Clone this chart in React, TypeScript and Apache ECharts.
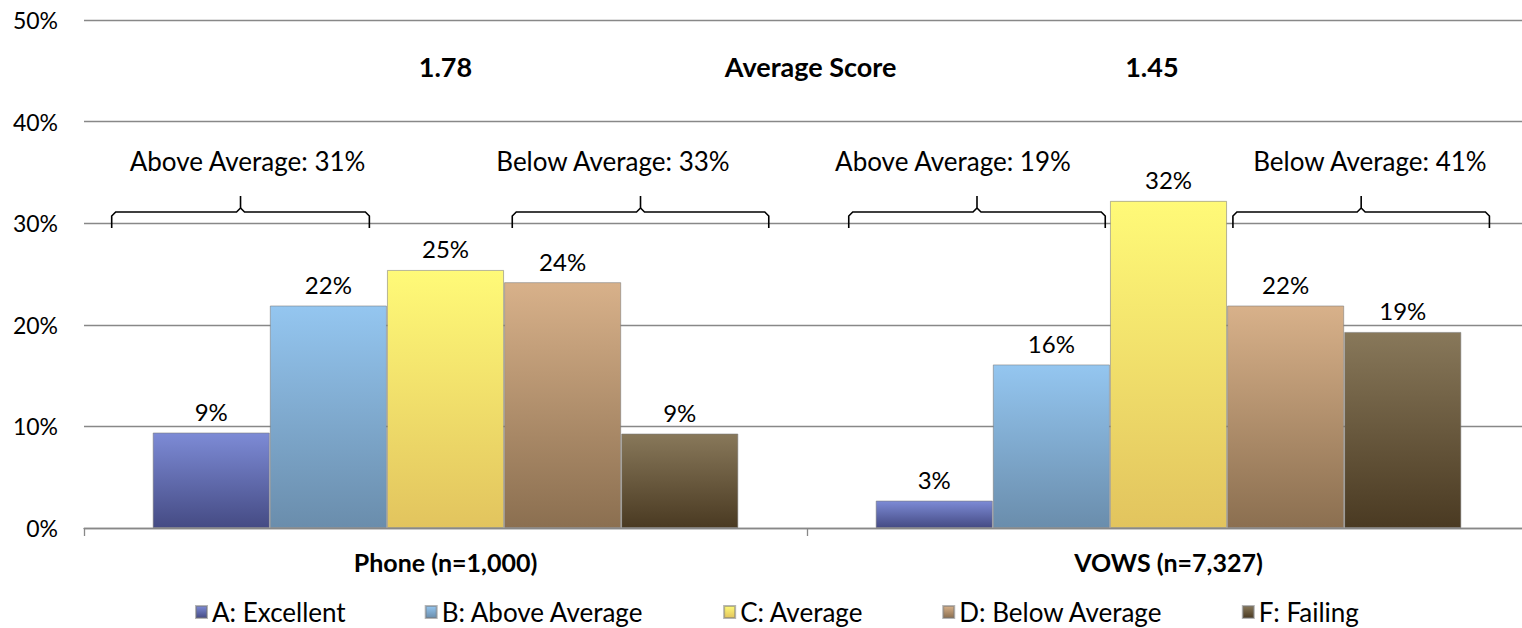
import React, { useEffect, useRef } from "react";
import * as echarts from "echarts";

const categories = ["Phone (n=1,000)", "VOWS (n=7,327)"];
const seriesNames = ["A: Excellent", "B: Above Average", "C: Average", "D: Below Average", "F: Failing"];
const gradeA = [9.4, 2.7];
const gradeB = [21.9, 16.1];
const gradeC = [25.4, 32.2];
const gradeD = [24.2, 21.9];
const gradeF = [9.3, 19.3];
const yTicks = [0, 10, 20, 30, 40, 50];

const bracketCategory = [0, 0, 1, 1];
const bracketLabels = ["Above Average: 31%", "Below Average: 33%", "Above Average: 19%", "Below Average: 41%"];
// bracket spans and label centres, in bar widths from the category centre
const bracketStart = [-2.85, 0.57, -2.73, 0.55];
const bracketEnd = [-0.65, 2.76, -0.54, 2.74];
const bracketTextCenter = [-1.69, 1.43, -1.84, 1.72];

const scoreLabels = ["1.78", "Average Score", "1.45"];
const scorePositions = [0, 0.505, 0.977];

const gradientStops: [string, string][] = [
  ["#7d8bd6", "#454b84"],
  ["#94c6f0", "#6a8dac"],
  ["#fffa78", "#e2c45e"],
  ["#d8b18a", "#8b6f50"],
  ["#88785a", "#4a3a22"],
];

const FONT = "Lato, 'Open Sans', sans-serif";
const BAR_FRAC = 0.162;
const BRACKET_LEVEL = 31.1;
const BRACKET_TEXT_LEVEL = 36.1;
const SCORE_LEVEL = 45.4;

function grad(i: number) {
  return new echarts.graphic.LinearGradient(0, 0, 0, 1, [
    { offset: 0, color: gradientStops[i][0] },
    { offset: 1, color: gradientStops[i][1] },
  ]);
}

export default function App() {
  const ref = useRef<HTMLDivElement>(null);
  useEffect(() => {
    if (!ref.current) return;
    const chart = echarts.init(ref.current, null, { renderer: "svg" });
    const values = [gradeA, gradeB, gradeC, gradeD, gradeF];
    const barSeries = seriesNames.map((name, i) => ({
      name,
      type: "bar",
      data: values[i],
      barWidth: BAR_FRAC * 100 + "%",
      barGap: "0%",
      itemStyle: {
        color: grad(i),
        borderColor: "rgba(120,120,120,0.55)",
        borderWidth: 1,
      },
      label: {
        show: true,
        position: "top",
        distance: 9,
        fontFamily: FONT,
        fontSize: 24,
        color: "#000",
        formatter: (p: any) => Math.round(p.value) + "%",
      },
    }));

    const annotationSeries = {
      type: "custom",
      silent: true,
      z: 10,
      clip: false,
      data: [[0, 0]],
      renderItem: (params: any, api: any) => {
        const children: any[] = [];
        const catW = api.size([1, 0])[0];
        const bw = catW * BAR_FRAC;
        const yH = api.coord([0, BRACKET_LEVEL])[1];
        const yText = api.coord([0, BRACKET_TEXT_LEVEL])[1];
        bracketCategory.forEach((c, i) => {
          const cx = api.coord([c, 0])[0];
          const x0 = cx + bracketStart[i] * bw;
          const x1 = cx + bracketEnd[i] * bw;
          const xm = (x0 + x1) / 2;
          const r = 4;
          children.push({
            type: "polyline",
            shape: {
              points: [
                [x0, yH + 16],
                [x0, yH + r],
                [x0 + r, yH],
                [xm - r, yH],
                [xm, yH - r],
                [xm, yH - 16],
              ],
            },
            style: { stroke: "#000", lineWidth: 1.6, fill: null },
          });
          children.push({
            type: "polyline",
            shape: {
              points: [
                [xm, yH - r],
                [xm + r, yH],
                [x1 - r, yH],
                [x1, yH + r],
                [x1, yH + 16],
              ],
            },
            style: { stroke: "#000", lineWidth: 1.6, fill: null },
          });
          children.push({
            type: "text",
            style: {
              text: bracketLabels[i],
              x: cx + bracketTextCenter[i] * bw,
              y: yText,
              align: "center",
              verticalAlign: "middle",
              fontFamily: FONT,
              fontSize: 26,
              fill: "#000",
            },
          });
        });
        const ySc = api.coord([0, SCORE_LEVEL])[1];
        const p0 = api.coord([0, 0])[0];
        const p1 = api.coord([1, 0])[0];
        scoreLabels.forEach((t, i) => {
          const x = p0 + (p1 - p0) * scorePositions[i];
          children.push({
            type: "text",
            style: {
              text: t,
              x,
              y: ySc,
              align: "center",
              verticalAlign: "middle",
              fontFamily: FONT,
              fontSize: 27,
              fontWeight: "bold",
              fill: "#000",
            },
          });
        });
        return { type: "group", children };
      },
    };

    chart.setOption({
      animation: false,
      backgroundColor: "#fff",
      grid: { left: 84, top: 20, right: 0, height: 508 },
      legend: {
        data: seriesNames,
        left: 195,
        top: 599,
        padding: 0,
        itemWidth: 11,
        itemHeight: 12,
        itemGap: 79,
        icon: "rect",
        textStyle: { fontFamily: FONT, fontSize: 26, lineHeight: 22, color: "#000" },
      },
      xAxis: {
        type: "category",
        data: categories,
        axisLine: { show: true, lineStyle: { color: "#888", width: 1.3 } },
        axisTick: { show: true, length: 8, lineStyle: { color: "#888", width: 1.3 } },
        axisLabel: {
          fontFamily: FONT,
          fontSize: 25,
          fontWeight: "bold",
          color: "#000",
          margin: 21,
        },
      },
      yAxis: {
        type: "value",
        min: yTicks[0],
        max: yTicks[yTicks.length - 1],
        interval: 10,
        axisLine: { show: false },
        axisTick: { show: false },
        splitLine: { lineStyle: { color: "#888", width: 1.3 } },
        axisLabel: {
          fontFamily: FONT,
          fontSize: 23,
          color: "#000",
          margin: 26,
          formatter: "{value}%",
        },
      },
      series: [...barSeries, annotationSeries],
    });
    return () => chart.dispose();
  }, []);
  return (
    <div
      ref={ref}
      style={{ position: "fixed", left: 0, top: 0, width: 1530, height: 628, background: "#fff" }}
    />
  );
}
